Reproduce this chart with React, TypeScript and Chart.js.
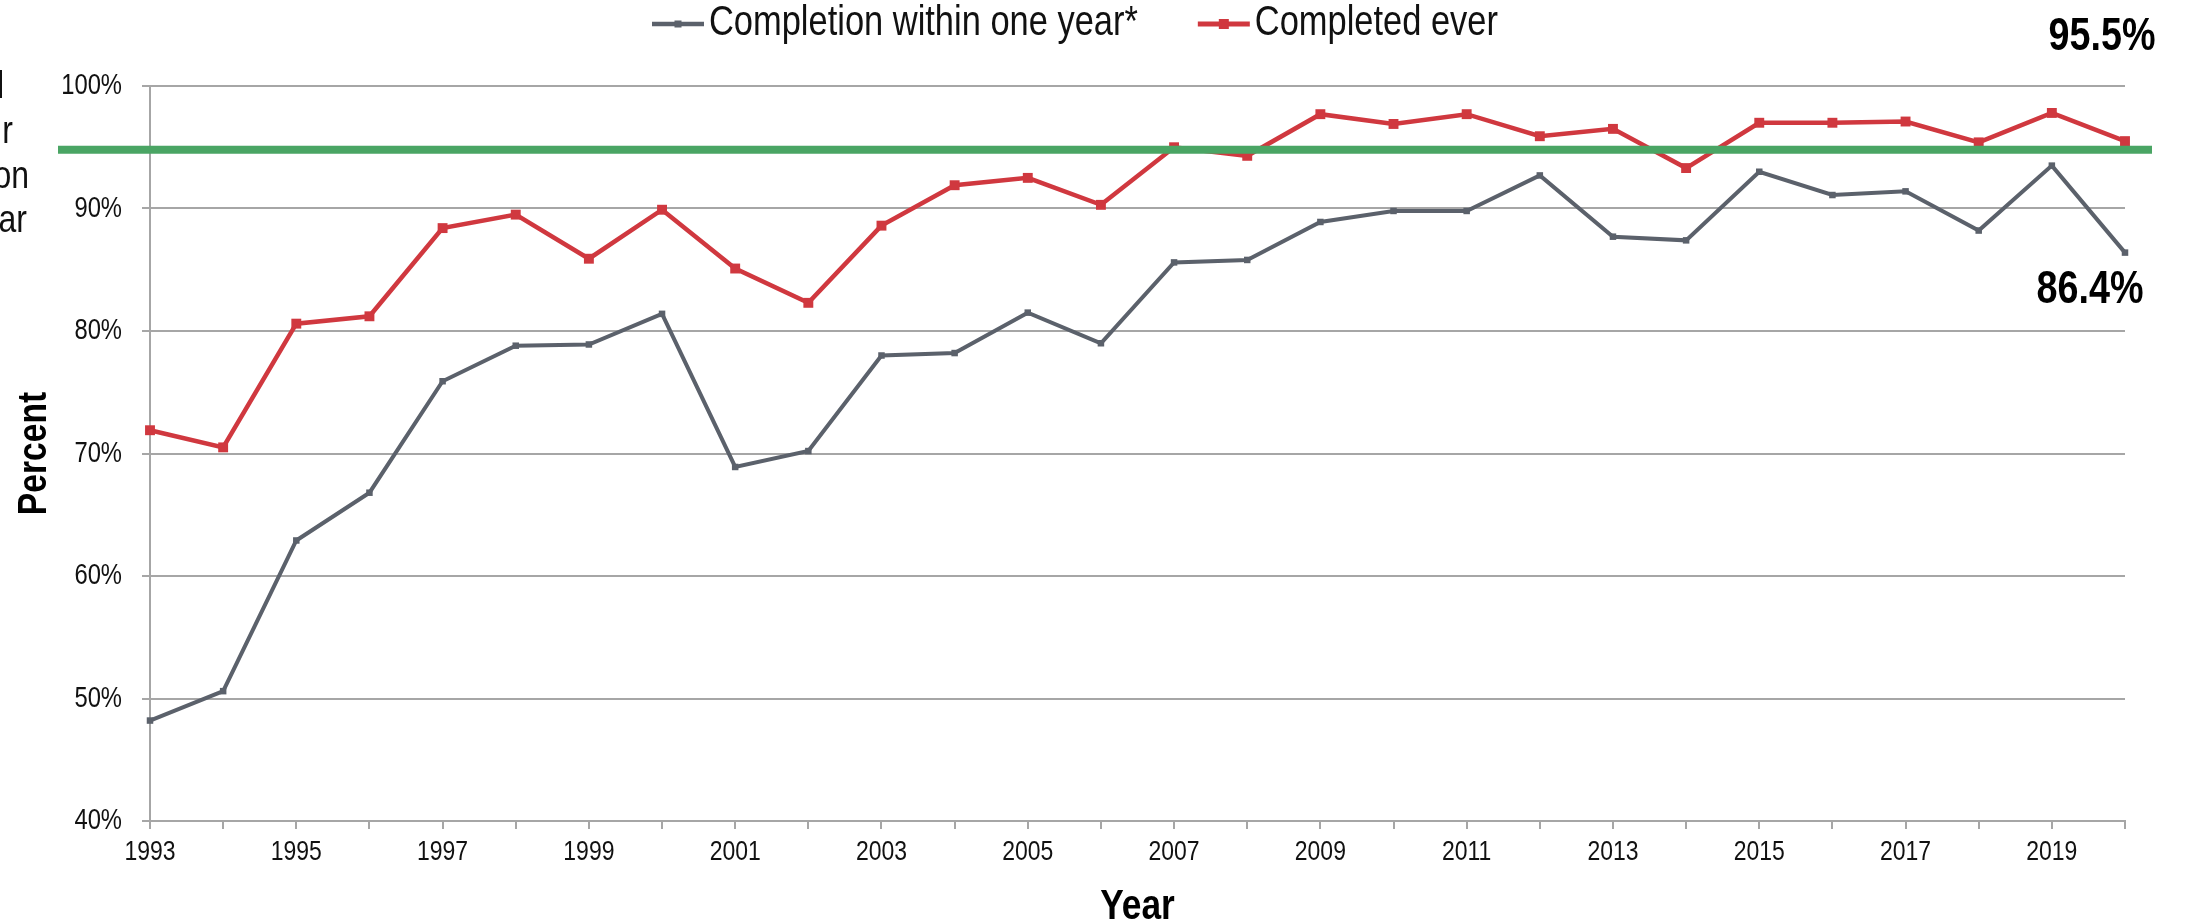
import React, { useEffect, useRef } from "react";
import { Chart, registerables } from "chart.js";

Chart.register(...registerables);

// ---------- data ----------
const years = [
  "1993", "1994", "1995", "1996", "1997", "1998", "1999", "2000", "2001", "2002",
  "2003", "2004", "2005", "2006", "2007", "2008", "2009", "2010", "2011", "2012",
  "2013", "2014", "2015", "2016", "2017", "2018", "2019", "2020",
];
const withinOneYear = [
  48.2, 50.6, 62.9, 66.8, 75.9, 78.8, 78.9, 81.4, 68.9, 70.2,
  78.0, 78.2, 81.5, 79.0, 85.6, 85.8, 88.9, 89.8, 89.8, 92.7,
  87.7, 87.4, 93.0, 91.1, 91.4, 88.2, 93.5, 86.4,
];
const completedEver = [
  71.9, 70.5, 80.6, 81.2, 88.4, 89.5, 85.9, 89.9, 85.1, 82.3,
  88.6, 91.9, 92.5, 90.3, 95.0, 94.3, 97.7, 96.9, 97.7, 95.9,
  96.5, 93.3, 97.0, 97.0, 97.1, 95.4, 97.8, 95.5,
];
const seriesNames = ["Completion within one year*", "Completed ever"];
const goalValue = 94.8;
const yMin = 40;
const yMax = 100;
const yStep = 10;
const sideNoteFragments = ["l", "r", "on", "ar"];
const xTitle = "Year";
const yTitle = "Percent";

// ---------- styles ----------
const FAMILY = "'Liberation Sans', Arial, sans-serif";
const SX = 0.82; // horizontal compression to emulate a narrow face
const GRAY = "#5b616b";
const RED = "#d0383f";
const GREEN = "#4aa564";
const GRID = "#a6a6a6";
const TEXT = "#111111";

const narrowTextPlugin = {
  id: "narrowText",
  beforeDraw(chart: any) {
    const ctx: any = chart.ctx;
    if (ctx.__narrowed) return;
    ctx.__narrowed = true;
    const orig = CanvasRenderingContext2D.prototype.fillText;
    ctx.fillText = function (text: string, x: number, y: number, maxWidth?: number) {
      this.save();
      this.translate(x, y);
      this.scale(SX, 1);
      if (maxWidth === undefined || maxWidth === null) orig.call(this, text, 0, 0);
      else orig.call(this, text, 0, 0, maxWidth / SX);
      this.restore();
    };
  },
};

const overlayPlugin = {
  id: "overlay",
  afterDatasetsDraw(chart: any) {
    const { ctx, scales } = chart;
    const y = scales.y;
    const gy = y.getPixelForValue(goalValue);
    ctx.save();
    ctx.strokeStyle = GREEN;
    ctx.lineWidth = 8;
    ctx.beginPath();
    ctx.moveTo(58, gy);
    ctx.lineTo(2152, gy);
    ctx.stroke();
    ctx.restore();
  },
  afterDraw(chart: any) {
    const { ctx, scales } = chart;
    const x = scales.x;
    const y = scales.y;
    ctx.save();

    // legend
    const items = [
      { label: seriesNames[0], color: GRAY, lw: 4.5, sq: 7 },
      { label: seriesNames[1], color: RED, lw: 5, sq: 10 },
    ];
    ctx.font = `42px ${FAMILY}`;
    ctx.textBaseline = "middle";
    ctx.textAlign = "left";
    let lx = 652;
    const ly = 24;
    items.forEach((it) => {
      ctx.strokeStyle = it.color;
      ctx.lineWidth = it.lw;
      ctx.beginPath();
      ctx.moveTo(lx, ly);
      ctx.lineTo(lx + 52, ly);
      ctx.stroke();
      ctx.fillStyle = it.color;
      ctx.fillRect(lx + 26 - it.sq / 2, ly - it.sq / 2, it.sq, it.sq);
      ctx.fillStyle = TEXT;
      ctx.fillText(it.label, lx + 57, ly - 1);
      const w = ctx.measureText(it.label).width * SX;
      lx = lx + 57 + w + 60;
    });

    // end labels
    const last = years.length - 1;
    const lastX = x.getPixelForValue(last);
    ctx.font = `bold 46px ${FAMILY}`;
    ctx.textAlign = "center";
    ctx.fillStyle = "#000";
    ctx.fillText(`${completedEver[last].toFixed(1)}%`, lastX - 23, 37);
    const gyLast = y.getPixelForValue(withinOneYear[last]);
    ctx.fillText(`${withinOneYear[last].toFixed(1)}%`, lastX - 35, gyLast + 38);

    // clipped side note
    ctx.font = `39px ${FAMILY}`;
    ctx.textAlign = "right";
    ctx.textBaseline = "alphabetic";
    ctx.fillStyle = TEXT;
    const noteX = [4, 13, 29, 27];
    const noteY = [98, 143, 188, 232];
    sideNoteFragments.forEach((t, i) => ctx.fillText(t, noteX[i], noteY[i]));

    ctx.restore();
  },
};

export default function App() {
  const ref = useRef<HTMLCanvasElement | null>(null);
  useEffect(() => {
    if (!ref.current) return;
    Chart.defaults.font.family = FAMILY;
    const chart = new Chart(ref.current, {
      type: "line",
      data: {
        labels: years,
        datasets: [
          {
            label: seriesNames[0],
            data: withinOneYear,
            borderColor: GRAY,
            backgroundColor: GRAY,
            borderWidth: 4,
            pointStyle: "rect",
            pointRadius: 4.6,
            pointBackgroundColor: GRAY,
            pointBorderColor: GRAY,
            pointBorderWidth: 0,
            tension: 0,
            clip: false,
          },
          {
            label: seriesNames[1],
            data: completedEver,
            borderColor: RED,
            backgroundColor: RED,
            borderWidth: 4.5,
            pointStyle: "rect",
            pointRadius: 7,
            pointBackgroundColor: RED,
            pointBorderColor: RED,
            pointBorderWidth: 0,
            tension: 0,
            clip: false,
          },
        ],
      },
      options: {
        responsive: false,
        maintainAspectRatio: false,
        devicePixelRatio: 1,
        animation: false,
        layout: { padding: { top: 86, right: 66, bottom: 0, left: 0 } },
        plugins: {
          legend: { display: false },
          tooltip: { enabled: false },
        },
        scales: {
          x: {
            type: "category",
            offset: false,
            afterFit: (s: any) => { s.height = 103; },
            grid: {
              display: true,
              drawOnChartArea: false,
              drawTicks: true,
              tickLength: 8,
              color: GRID,
              lineWidth: 2,
            },
            border: { display: true, color: GRID, width: 2 },
            ticks: {
              autoSkip: false,
              maxRotation: 0,
              minRotation: 0,
              padding: 6,
              color: TEXT,
              font: { size: 28, family: FAMILY },
              callback: (_v: any, i: number) => (i % 2 === 0 ? years[i] : ""),
            },
            title: {
              display: true,
              text: xTitle,
              color: "#000",
              font: { size: 43, weight: "bold", family: FAMILY, lineHeight: 0.8 },
              padding: { top: 0, bottom: 0 },
            },
          },
          y: {
            min: yMin,
            max: yMax,
            afterFit: (s: any) => { s.width = 150; },
            grid: {
              color: GRID,
              lineWidth: 2,
              tickLength: 8,
            },
            border: { display: true, color: GRID, width: 2 },
            ticks: {
              stepSize: yStep,
              padding: 20,
              color: TEXT,
              font: { size: 29, family: FAMILY },
              callback: (v: any) => `${v}%`,
            },
            title: {
              display: true,
              text: yTitle,
              color: "#000",
              font: { size: 41, weight: "bold", family: FAMILY, lineHeight: 1 },
              padding: { top: 14, bottom: 0 },
            },
          },
        },
      },
      plugins: [narrowTextPlugin, overlayPlugin],
    } as any);
    return () => chart.destroy();
  }, []);

  return (
    <div style={{ position: "fixed", left: 0, top: 0, width: 2191, height: 924, background: "#fff" }}>
      <canvas ref={ref} width={2191} height={924} style={{ display: "block", width: 2191, height: 924 }} />
    </div>
  );
}
